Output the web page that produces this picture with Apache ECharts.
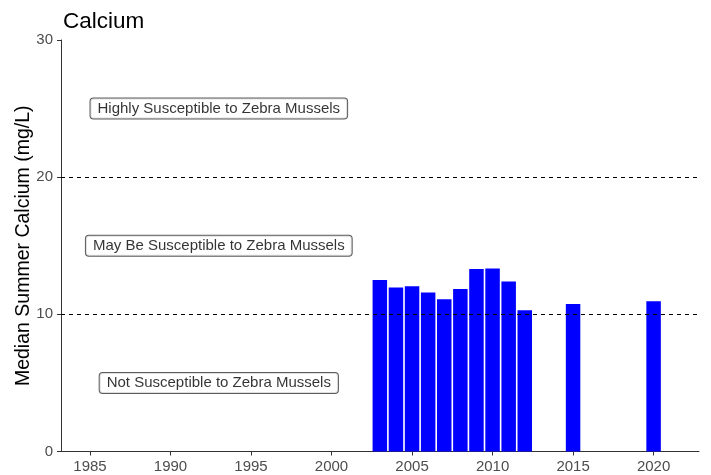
<!DOCTYPE html>
<html>
<head>
<meta charset="utf-8">
<script src="https://cdn.jsdelivr.net/npm/echarts@6/dist/echarts.min.js"></script>
<style>html,body{margin:0;padding:0;background:#fff;}#c{width:711px;height:475px;}</style>
</head>
<body>
<div id="c"></div>
<script>
const years = [2003, 2004, 2005, 2006, 2007, 2008, 2009, 2010, 2011, 2012, 2015, 2020];
const calcium = [12.5, 11.95, 12.05, 11.6, 11.1, 11.85, 13.3, 13.35, 12.4, 10.3, 10.75, 10.95];
const xTicks = [1985, 1990, 1995, 2000, 2005, 2010, 2015, 2020];
const yTicks = [0, 10, 20, 30];
const thresholds = [10, 20];
const zoneLabels = ['Highly Susceptible to Zebra Mussels', 'May Be Susceptible to Zebra Mussels', 'Not Susceptible to Zebra Mussels'];
const zoneX = [1993, 1993, 1993];
const zoneY = [25, 15, 5];

const chart = echarts.init(document.getElementById('c'));
const xMin = 1983.2, xMax = 2022.82;
const gridLeft = 61, gridRight = 12;
const pxPerYear = (711 - gridLeft - gridRight) / (xMax - xMin);

chart.setOption({
  animation: false,
  backgroundColor: '#ffffff',
  title: {
    text: 'Calcium', left: 58, top: 5,
    textStyle: { fontFamily: 'Liberation Sans', fontSize: 22.5, fontWeight: 'normal', color: '#000' }
  },
  grid: { left: gridLeft, right: gridRight, top: 40, bottom: 23.5, containLabel: false, outerBoundsMode: 'none' },
  xAxis: {
    type: 'value', min: xMin, max: xMax,
    axisLine: { lineStyle: { color: '#333', width: 1 } },
    axisTick: { show: true, customValues: xTicks, length: 4, lineStyle: { color: '#333' } },
    axisLabel: { customValues: xTicks, formatter: v => String(v), color: '#4d4d4d', fontSize: 15, fontFamily: 'Liberation Sans', margin: 8 },
    splitLine: { show: false }
  },
  yAxis: {
    type: 'value', min: 0, max: 30, interval: 10,
    name: 'Median Summer Calcium (mg/L)', nameLocation: 'middle', nameGap: 27, nameMoveOverlap: false,
    nameTextStyle: { fontFamily: 'Liberation Sans', fontSize: 19.5, color: '#000' },
    axisLine: { show: true, lineStyle: { color: '#333', width: 1 } },
    axisTick: { show: true, length: 4, lineStyle: { color: '#333' } },
    axisLabel: { customValues: yTicks, formatter: v => String(v), color: '#4d4d4d', fontSize: 15, fontFamily: 'Liberation Sans', margin: 8 },
    splitLine: { show: false }
  },
  series: [
    {
      type: 'bar',
      data: years.map((y, i) => [y, calcium[i]]),
      barWidth: 0.9 * pxPerYear,
      itemStyle: { color: '#0000ff' },
      z: 2,
      markLine: {
        silent: true, symbol: 'none',
        label: { show: false },
        lineStyle: { color: '#000', type: [4, 4], width: 1.1 },
        data: thresholds.map(v => ({ yAxis: v }))
      }
    },
    {
      type: 'scatter',
      symbolSize: 0,
      z: 5,
      data: zoneX.map((x, i) => ({ value: [x, zoneY[i]], name: zoneLabels[i] })),
      label: {
        show: true, position: 'inside',
        formatter: p => p.name,
        fontFamily: 'Liberation Sans', fontSize: 15, lineHeight: 16, color: '#000',
        backgroundColor: '#fff', borderColor: '#333', borderWidth: 1, borderRadius: 3,
        padding: [2, 7, 2, 7]
      }
    }
  ]
});
</script>
</body>
</html>
